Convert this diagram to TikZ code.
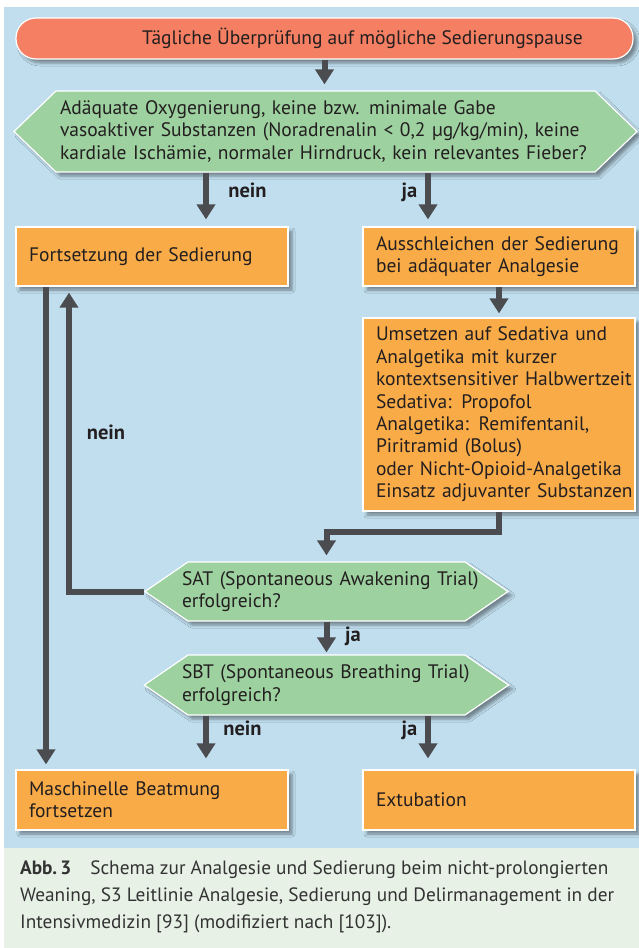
\documentclass[tikz,border=0pt]{standalone}
\usepackage{fontspec}
\setmainfont{PT Sans}
\usetikzlibrary{arrows.meta,shapes.symbols,shadows.blur,calc}
\definecolor{panel}{HTML}{C0DEEE}
\definecolor{capbg}{HTML}{E7F1E6}
\definecolor{boxor}{HTML}{F9AB48}
\definecolor{hexgr}{HTML}{9DD19F}
\definecolor{topred}{HTML}{F47F62}
\definecolor{arrgr}{HTML}{4B4C4F}
\definecolor{txt}{HTML}{231F20}
\begin{document}
\begin{tikzpicture}[x=1pt,y=-1pt,
  every node/.style={text=txt},
  mainfont/.style={font=\fontsize{19.5}{22.4}\selectfont},
  shad/.style={blur shadow={shadow xshift=4pt,shadow yshift=-4pt,shadow blur radius=3pt,shadow opacity=40}},
  topbox/.style={mainfont,shad,rectangle,rounded corners=20pt,fill=topred,draw=white,line width=1.2pt,
    minimum width=617pt,minimum height=41pt,inner sep=0pt},
  obox/.style={mainfont,shad,rectangle,fill=boxor,draw=white,line width=1.2pt,
    minimum width=272pt,minimum height=59pt,inner xsep=13pt,inner ysep=0pt,text width=246pt,align=left},
  hexbox/.style={mainfont,shad,signal,signal to=west and east,fill=hexgr,draw=white,line width=1.2pt,
    inner sep=0pt,align=left},
  lbl/.style={font=\fontsize{20.5}{22.4}\selectfont\bfseries,anchor=base,inner sep=0pt},
  arr/.style={draw=arrgr,line width=6pt,-{Triangle[width=18pt,length=15pt]}}
]
\useasboundingbox (0,0) rectangle (639,948);
\fill[white] (0,0) rectangle (639,948);
\fill[panel] (4,7) rectangle (639,848);
\fill[capbg] (4,848) rectangle (639,948);

% nodes
\node[topbox] (t) at (324.5,38.5) {\hspace*{76pt}Tägliche Überprüfung auf mögliche Sedierungspause};
\node[hexbox,signal pointer angle=88,minimum width=623pt,minimum height=81pt,text width=531pt] (h1) at (325.5,131.5)
  {Adäquate Oxygenierung, keine bzw. minimale Gabe\\
   vasoaktiver Substanzen (Noradrenalin < 0,2 µg/kg/min), keine\\
   kardiale Ischämie, normaler Hirndruck, kein relevantes Fieber?};
\node[obox] (f) at (152,256.5) {Fortsetzung der Sedierung};
\node[obox] (a) at (499,256.5) {Ausschleichen der Sedierung\\bei adäquater Analgesie};
\node[obox,minimum height=193pt] (u) at (499,414.5)
  {\mbox{Umsetzen auf Sedativa und}\\
   \mbox{Analgetika mit kurzer}\\
   \mbox{kontextsensitiver Halbwertzeit}\\
   \mbox{Sedativa: Propofol}\\
   \mbox{Analgetika: Remifentanil,}\\
   \mbox{Piritramid (Bolus)}\\
   \mbox{oder Nicht-Opioid-Analgetika}\\
   \mbox{Einsatz adjuvanter Substanzen}};
\node[hexbox,signal pointer angle=69,minimum width=363pt,minimum height=59pt,text width=289pt,inner xsep=-6pt] (sat) at (326.5,591.5)
  {\mbox{SAT (Spontaneous Awakening Trial)}\\erfolgreich?};
\node[hexbox,signal pointer angle=69,minimum width=363pt,minimum height=60pt,text width=289pt,inner xsep=-6pt] (sbt) at (326.5,685)
  {\mbox{SBT (Spontaneous Breathing Trial)}\\erfolgreich?};
\node[obox,minimum height=60pt] (m) at (152,800) {Maschinelle Beatmung\\fortsetzen};
\node[obox,minimum height=60pt] (e) at (499,800) {Extubation};

% helper x positions
\coordinate (xn) at (206,0);
\coordinate (xj) at (428,0);

% connectors
\draw[arr,shorten >=6pt] (t.south) -- (t.south |- h1.north);
\draw[arr,shorten >=7pt] (h1.south -| xn) -- (f.north -| xn);
\draw[arr,shorten >=7pt] (h1.south -| xj) -- (a.north -| xj);
\draw[arr,shorten >=4pt] (a.south) -- (u.north);
\draw[arr,shorten >=6pt] (u.south) -- ([yshift=-20pt]u.south) -| (sat.north);
\draw[arr,shorten >=6pt] (sat.west) -| ([xshift=-83pt]f.south);
\draw[arr,shorten >=5pt] ([xshift=-106pt]f.south) -- ([xshift=-106pt]m.north);
\draw[arr,shorten >=2pt] (sat.south) -- (sbt.north);
\draw[arr,shorten >=11pt] (sbt.south -| xn) -- (m.north -| xn);
\draw[arr,shorten >=11pt] (sbt.south -| xj) -- (e.north -| xj);

% labels
\node[lbl] (l1) at (247.5,197) {nein};
\node[lbl] (l2) at (409.5,197) {ja};
\node[lbl] (l3) at (106,439) {nein};
\node[lbl] (l4) at (353,641) {ja};
\node[lbl] (l5) at (242.5,735) {nein};
\node[lbl] (l6) at (409.5,735) {ja};

% caption
\node[anchor=north west,inner sep=0pt,align=left,text=black!80,font=\fontsize{19.3}{26.6}\selectfont] (cap) at (20,861)
  {\textbf{Abb.\,3}\hspace{19pt}Schema zur Analgesie und Sedierung beim nicht-prolongierten\\
   Weaning, S3 Leitlinie Analgesie, Sedierung und Delirmanagement in der\\
   Intensivmedizin [93] (modifiziert nach [103]).};
\end{tikzpicture}
\end{document}
